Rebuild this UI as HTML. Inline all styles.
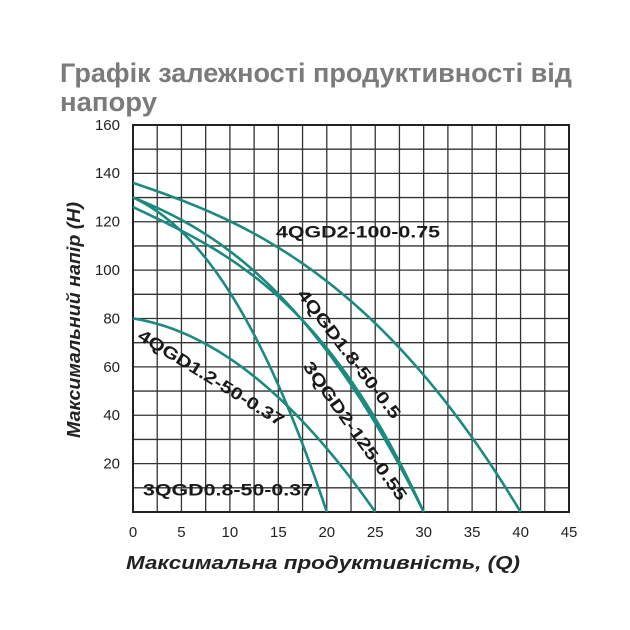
<!DOCTYPE html>
<html><head><meta charset="utf-8">
<style>
html,body{margin:0;padding:0;background:#fff;}
body{width:630px;height:630px;overflow:hidden;}
svg{display:block;font-family:"Liberation Sans",sans-serif;}
</style></head>
<body>
<svg id="s" width="630" height="630" viewBox="0 0 630 630" xmlns="http://www.w3.org/2000/svg">
<text x="60" y="82" font-size="27" font-weight="bold" fill="#7b7b7b" textLength="512" lengthAdjust="spacingAndGlyphs">Графік залежності продуктивності від</text>
<text x="60" y="111" font-size="27" font-weight="bold" fill="#7b7b7b" textLength="97" lengthAdjust="spacingAndGlyphs">напору</text>
<g id="grid" stroke="#333" stroke-width="1.3"></g>
<rect x="133" y="125" width="436" height="387" fill="none" stroke="#222" stroke-width="2"/>
<g id="ticks" font-size="15" fill="#222"></g>
<g id="curves" fill="none" stroke="#1b8a7f" stroke-width="2.6"></g>
<g font-size="17" font-weight="bold" fill="#1a1a1a" text-anchor="middle" dominant-baseline="central">
<text x="358" y="232" textLength="164" lengthAdjust="spacingAndGlyphs">4QGD2-100-0.75</text>
<text transform="translate(349,354) rotate(52.6)" textLength="158" lengthAdjust="spacingAndGlyphs">4QGD1.8-50-0.5</text>
<text transform="translate(355,431) rotate(54.6)" textLength="166" lengthAdjust="spacingAndGlyphs">3QGD2-125-0.55</text>
<text transform="translate(211,378) rotate(31.6)" textLength="168" lengthAdjust="spacingAndGlyphs">4QGD1.2-50-0.37</text>
<text x="228" y="490" textLength="170" lengthAdjust="spacingAndGlyphs">3QGD0.8-50-0.37</text>
</g>
<text transform="translate(80,320) rotate(-90)" font-size="18" font-weight="bold" font-style="italic" fill="#222" text-anchor="middle" textLength="236" lengthAdjust="spacingAndGlyphs">Максимальний напір (H)</text>
<text x="323" y="569" font-size="18" font-weight="bold" font-style="italic" fill="#222" text-anchor="middle" textLength="394" lengthAdjust="spacingAndGlyphs">Максимальна продуктивність, (Q)</text>
</svg>
<script>
var NS="http://www.w3.org/2000/svg";
function X(q){return 133+q*9.69;}
function Y(h){return 512-h*2.42;}
var g=document.getElementById("grid");
for(var i=1;i<18;i++){var l=document.createElementNS(NS,"line");var x=133+i*436/18;l.setAttribute("x1",x);l.setAttribute("x2",x);l.setAttribute("y1",125);l.setAttribute("y2",512);g.appendChild(l);}
for(var j=1;j<16;j++){var l=document.createElementNS(NS,"line");var y=125+j*387/16;l.setAttribute("x1",133);l.setAttribute("x2",569);l.setAttribute("y1",y);l.setAttribute("y2",y);g.appendChild(l);}
var t=document.getElementById("ticks");
for(var k=0;k<=45;k+=5){var e=document.createElementNS(NS,"text");e.setAttribute("x",X(k));e.setAttribute("y",537);e.setAttribute("text-anchor","middle");e.textContent=k;t.appendChild(e);}
for(var h=20;h<=160;h+=20){var e=document.createElementNS(NS,"text");e.setAttribute("x",120);e.setAttribute("y",Y(h)+5);e.setAttribute("text-anchor","end");e.textContent=h;t.appendChild(e);}
// [H0, Qmax, a, n]
var curves=[[136,40,0.4,2.6],[130,30,0.38,2.4],[126,30,0.45,3],[130,20,0.3,2.2],[80,25,0.2,2]];
var c=document.getElementById("curves");
curves.forEach(function(cv){
 var d="";
 for(var i=0;i<=80;i++){
  var tt=i/80;var hh=cv[0]*(1-cv[2]*tt-(1-cv[2])*Math.pow(tt,cv[3]));
  d+=(i?" L":"M")+X(tt*cv[1]).toFixed(2)+","+Y(hh).toFixed(2);
 }
 var p=document.createElementNS(NS,"path");p.setAttribute("d",d);c.appendChild(p);
});
</script>
</body></html>
